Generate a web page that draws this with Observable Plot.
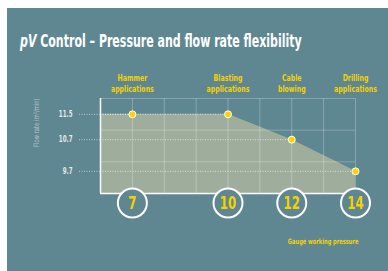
<!DOCTYPE html>
<html>
<head>
<meta charset="utf-8">
<script src="https://cdn.jsdelivr.net/npm/d3@7"></script>
<script src="https://cdn.jsdelivr.net/npm/@observablehq/plot@0.6"></script>
<style>
  html, body { margin: 0; padding: 0; background: #ffffff; }
  body { width: 388px; height: 271px; position: relative; overflow: hidden;
         font-family: 'Liberation Sans Narrow', 'DejaVu Sans Condensed', 'Arial Narrow', sans-serif; font-stretch: condensed; }
  #panel { position: absolute; left: 7px; top: 8px; width: 381px; height: 263px; background: #5f8791; }
  #title { position: absolute; left: 20px; top: 31px; color: #ffffff; font-weight: bold; font-size: 18px;
           line-height: 20px; white-space: nowrap; transform-origin: 0 0; }
  #chart { position: absolute; left: 0; top: 0; }
</style>
</head>
<body>
<div id="panel"></div>
<div id="title"><i>pV</i> Control – Pressure and flow rate flexibility</div>
<div id="chart"></div>
<script>
const pressure = [7, 10, 12, 14];
const flow = [11.5, 11.5, 10.7, 9.7];
const applications = ["Hammer\napplications", "Blasting\napplications", "Cable\nblowing", "Drilling\napplications"];
const yTicks = [9.7, 10.7, 11.5];
const xGrid = [7, 8, 9, 10, 11, 12, 13, 14];
const yGrid = [10, 11, 12];
const xDomain = [6, 14];
const yDomain = [9, 12];
const yLabel = "Flow rate (m³/min)";
const xLabel = "Gauge working pressure";

const teal = "#5f8791";
const yellow = "#f4d200";
const font = "'Liberation Sans Narrow', 'DejaVu Sans Condensed', 'Arial Narrow', sans-serif";

const points = pressure.map((p, i) => ({p, f: flow[i], app: applications[i]}));
const areaData = [{p: xDomain[0], f: flow[0]}, ...points];

const chart = Plot.plot({
  width: 388,
  height: 271,
  marginLeft: 100,
  marginRight: 33,
  marginTop: 98,
  marginBottom: 78,
  style: {background: "transparent", fontFamily: font},
  x: {domain: xDomain, axis: null},
  y: {domain: yDomain, axis: null},
  marks: [
    Plot.areaY(areaData, {x: "p", y1: yDomain[0], y2: "f", fill: "#9fae9c"}),
    Plot.ruleX(xGrid, {stroke: "#ffffff", strokeOpacity: 0.25, strokeWidth: 1}),
    Plot.ruleY(yGrid, {stroke: "#ffffff", strokeOpacity: 0.25, strokeWidth: 1}),
    Plot.ruleY(points, {y: "f", x1: xDomain[0], x2: "p", stroke: "#e6ecea", strokeWidth: 1, strokeDasharray: "1,1.5", strokeOpacity: 0.8}),
    Plot.axisY({ticks: yTicks, tickSize: 22, tickPadding: 6, tickFormat: d => d.toFixed(1),
      stroke: "#d8e0e2", strokeDasharray: "1,1.5", strokeOpacity: 0.8,
      fill: "#e2e8ea", fontSize: 8, fontWeight: "bold", label: null}),
    Plot.ruleX([xDomain[0]], {stroke: "#ffffff", strokeWidth: 1.5}),
    Plot.ruleY([yDomain[0]], {stroke: "#ffffff", strokeWidth: 1.5}),
    Plot.dot(points, {x: "p", y: "f", r: 3.5, fill: "#ffd400", stroke: "#ffffff", strokeWidth: 1}),
    Plot.text(points, {x: "p", y: yDomain[1], text: "app", lineAnchor: "bottom", dy: -7, lineHeight: 1.2,
      fill: yellow, fontSize: 9, fontWeight: "bold"}),
    Plot.dot(pressure, {x: d => d, y: yDomain[0], dy: 9.5, r: 14.5, fill: teal, stroke: "#ffffff", strokeWidth: 2}),
    Plot.text(pressure, {x: d => d, y: yDomain[0], dy: 10, text: d => String(d), fill: yellow, fontSize: 17, fontWeight: "bold"}),
    Plot.text([xLabel], {x: xDomain[1], y: yDomain[0], dx: 3, dy: 48, textAnchor: "end", fill: yellow, fontSize: 7.4, fontWeight: "bold"}),
    Plot.text([yLabel], {frameAnchor: "top-left", dx: -67, rotate: -90, textAnchor: "end", fill: "#b3c3c7", fontSize: 7.5})
  ]
});
document.getElementById("chart").appendChild(chart);

// condense glyphs to mimic a narrow typeface
const squeeze = 0.77;
chart.querySelectorAll("text").forEach(t => {
  const spans = t.querySelectorAll("tspan");
  const targets = spans.length ? Array.from(spans) : [t];
  targets.forEach(el => {
    const len = el.getComputedTextLength();
    if (len > 0) {
      el.setAttribute("textLength", (len * squeeze).toFixed(2));
      el.setAttribute("lengthAdjust", "spacingAndGlyphs");
    }
  });
});
const title = document.getElementById("title");
title.style.transform = `scaleX(${282 / title.offsetWidth})`;
</script>
</body>
</html>
